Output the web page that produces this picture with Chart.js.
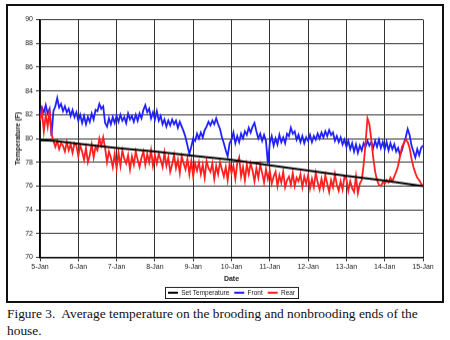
<!DOCTYPE html>
<html>
<head>
<meta charset="utf-8">
<script src="https://cdn.jsdelivr.net/npm/chart.js@4/dist/chart.umd.min.js"></script>
<style>
  body { margin: 0; background: #fff; width: 450px; height: 340px; overflow: hidden; position: relative; }
  #wrap { position: absolute; left: 0; top: 0; width: 450px; height: 307.5px; }
  #frame { position: absolute; left: 6px; top: 4px; width: 438px; height: 299px; border: 2px solid #111; box-sizing: border-box; pointer-events: none; }
  #caption { position: absolute; left: 7px; top: 306px; font-family: "Liberation Serif", "Times New Roman", serif; font-size: 13.4px; line-height: 16.5px; color: #111; white-space: nowrap; background: #fff; }
</style>
</head>
<body>
<div id="wrap"><canvas id="myChart"></canvas></div>
<div id="frame"></div>
<div id="caption">Figure 3.&nbsp; Average temperature on the brooding and nonbrooding ends of the<br>house.</div>

<script>
// axis ticks
const dayTicks = [5, 6, 7, 8, 9, 10, 11, 12, 13, 14, 15]
const tempTicks = [70, 72, 74, 76, 78, 80, 82, 84, 86, 88, 90]

// set temperature (read at the day marks)
const setDays = [5, 5.35, 6, 7, 8, 9, 10, 11, 12, 13, 14, 15]
const setTemp = [79.85, 79.8, 79.55, 79.2, 78.9, 78.55, 78.2, 77.75, 77.3, 76.85, 76.45, 76.0]

// front and rear are read every 0.05 day (72 min) from 5-Jan to 15-Jan
const sampleDays = Array.from({length: 201}, (_, i) => 5 + i * 0.05)

const frontTemp = [
  82.0, 82.6, 82.2, 82.8, 82.1, 82.5, 80.2, 82.3, 82.7, 83.4, 82.6, 82.9, 82.3, 82.7, 82.2, 82.5, 81.9, 82.4, 81.8, 82.2,
  81.5, 82.0, 81.3, 81.9, 81.2, 81.8, 81.4, 82.1, 81.6, 82.4, 82.3, 82.9, 82.5, 82.7, 81.3, 81.0, 81.7, 81.2, 81.8, 81.3,
  81.9, 81.4, 82.0, 81.5, 81.8, 81.3, 82.1, 81.6, 81.9, 81.4, 82.0, 81.5, 82.1, 81.7, 82.4, 82.8, 82.2, 82.5, 81.7, 82.2,
  81.6, 82.3, 81.5, 81.9, 81.2, 81.6, 81.0, 81.5, 81.1, 81.6, 81.2, 81.5, 80.9, 81.4, 81.0, 80.6, 80.1, 79.4, 78.7, 79.3,
  80.0, 79.8, 80.4, 80.0, 80.5, 80.1, 80.7, 81.0, 81.4, 81.1, 81.5, 81.2, 81.7, 81.2, 80.8, 80.1, 79.6, 79.0, 78.5, 79.6,
  79.9, 80.5, 79.6, 80.2, 79.7, 80.4, 80.0, 80.6, 80.3, 80.9, 80.5, 81.0, 81.3, 80.6, 80.0, 80.4, 79.8, 80.3, 79.8, 77.9,
  79.6, 80.2, 79.4, 80.0, 79.5, 80.3, 79.7, 80.1, 79.6, 80.4, 80.2, 80.9, 80.4, 80.6, 79.9, 80.3, 79.7, 80.2, 79.6, 80.1,
  79.8, 80.3, 79.7, 80.2, 79.9, 80.4, 80.0, 80.5, 80.1, 80.6, 80.2, 80.7, 80.3, 80.5, 79.8, 80.2, 79.7, 80.1, 79.5, 79.9,
  79.3, 79.8, 79.1, 79.6, 78.9, 79.5, 78.8, 79.4, 79.0, 79.6, 79.3, 79.8, 79.4, 79.7, 79.2, 79.8, 79.3, 79.9, 79.2, 79.7,
  79.1, 79.7, 79.0, 79.6, 79.1, 79.5, 78.9, 79.2, 78.6, 79.0, 79.6, 80.1, 80.8, 80.3, 79.4, 78.9, 78.4, 79.1, 78.6, 79.2,
  79.4
]

const rearTemp = [
  81.5, 82.3, 80.6, 82.0, 81.0, 82.4, 80.4, 79.8, 79.3, 79.8, 79.1, 79.6, 79.4, 78.9, 79.7, 79.0, 79.5, 78.8, 79.6, 79.4,
  78.5, 79.4, 78.9, 78.2, 79.2, 78.0, 78.6, 79.5, 78.4, 79.3, 79.0, 80.0, 79.4, 80.1, 79.2, 78.0, 78.9, 78.4, 77.6, 78.7,
  77.5, 78.8, 77.7, 79.0, 78.3, 77.9, 78.6, 77.4, 78.5, 77.8, 78.9, 78.2, 77.6, 78.4, 78.9, 77.8, 78.7, 78.0, 79.0, 77.7,
  78.6, 77.9, 78.7, 78.2, 77.6, 78.8, 77.7, 78.4, 77.2, 77.8, 78.6, 77.5, 78.2, 77.1, 78.5, 77.9, 77.4, 78.3, 77.0, 78.1,
  76.8, 77.9, 77.3, 78.0, 77.0, 77.8, 76.7, 78.1, 77.5, 77.2, 77.9, 76.6, 77.7, 77.0, 78.0, 77.4, 76.8, 77.6, 76.5, 77.9,
  77.1, 77.7, 76.6, 77.9, 78.4, 76.8, 77.6, 76.5, 77.8, 77.0, 77.9, 77.3, 76.4, 77.5, 76.7, 77.8, 77.1, 76.3, 77.4, 76.6,
  77.3, 76.2, 76.8, 77.2, 76.0, 76.9, 76.3, 77.2, 75.9, 76.5, 76.8, 76.1, 77.1, 76.0, 76.7, 76.4, 77.0, 75.9, 76.8, 76.2,
  76.9, 75.8, 76.6, 75.9, 77.1, 76.3, 75.7, 76.6, 75.8, 76.9, 76.2, 75.5, 76.5, 75.9, 77.0, 76.1, 75.6, 76.4, 75.7, 76.8,
  76.6, 75.6, 76.4, 75.8, 75.5, 76.8, 75.4, 76.2, 76.5, 77.8, 79.6, 81.7, 81.2, 79.9, 78.4, 77.2, 76.5, 76.1, 76.0, 76.3,
  76.2, 76.5, 76.3, 76.7, 76.4, 76.8, 77.2, 77.7, 78.5, 79.3, 79.6, 79.9, 79.7, 79.2, 78.3, 77.6, 77.1, 76.7, 76.5, 76.2,
  76.0
]

const tickFont = { family: "'Liberation Sans', Arial, sans-serif", size: 7 }

function toPoints(days, temps) {
  return days.map((d, i) => ({ x: d, y: temps[i] }))
}

// box drawn round the legend, like the excel one
const legendBox = {
  id: 'legendBox',
  afterDraw(chart) {
    const boxes = chart.legend.legendHitBoxes
    if (!boxes || !boxes.length) return
    const left = Math.min(...boxes.map(b => b.left)) - 3
    const right = Math.max(...boxes.map(b => b.left + b.width)) + 3
    const mid = boxes[0].top + boxes[0].height / 2
    const ctx = chart.ctx
    ctx.save()
    ctx.strokeStyle = '#222'
    ctx.lineWidth = 1
    ctx.strokeRect(Math.round(left) + 0.5, Math.round(mid - 6) + 0.5, Math.round(right - left), 11)
    ctx.restore()
  }
}

const ctx = document.getElementById("myChart").getContext("2d")
window.myChart = new Chart(ctx, {
  type: 'line',
  data: {
    datasets: [{
      label: 'Set Temperature',
      data: toPoints(setDays, setTemp),
      borderColor: '#000',
      backgroundColor: '#000',
      borderWidth: 2,
      pointRadius: 0,
      order: 0
    }, {
      label: 'Front',
      data: toPoints(sampleDays, frontTemp),
      borderColor: '#1f1fff',
      backgroundColor: '#1f1fff',
      borderWidth: 1.8,
      pointRadius: 0,
      order: 2
    }, {
      label: 'Rear',
      data: toPoints(sampleDays, rearTemp),
      borderColor: '#ff1f1f',
      backgroundColor: '#ff1f1f',
      borderWidth: 1.8,
      pointRadius: 0,
      order: 1
    }]
  },
  options: {
    responsive: true,
    maintainAspectRatio: false,
    animation: false,
    layout: { padding: { top: 19.5, left: 8, right: 27, bottom: 2.5 } },
    plugins: {
      tooltip: { enabled: false },
      legend: {
        position: 'bottom',
        fullSize: false,
        labels: {
          usePointStyle: true,
          pointStyle: 'line',
          pointStyleWidth: 10,
          boxHeight: 7,
          padding: 5,
          color: '#222',
          font: { ...tickFont, size: 6.5 },
          sort: (a, b) => a.datasetIndex - b.datasetIndex
        }
      }
    },
    scales: {
      x: {
        type: 'linear',
        min: 5,
        max: 15,
        afterBuildTicks: axis => { axis.ticks = dayTicks.map(v => ({ value: v })) },
        afterFit: axis => { axis.height = 27 },
        ticks: { callback: v => v + '-Jan', color: '#222', font: tickFont, padding: 1, maxRotation: 0 },
        grid: { color: '#333', lineWidth: 1, tickLength: 4 },
        border: { color: '#000', width: 1.5 },
        title: { display: true, text: 'Date', color: '#222', font: { ...tickFont, weight: 'bold' }, padding: { top: 0, bottom: 1 } }
      },
      y: {
        min: 70,
        max: 90,
        afterBuildTicks: axis => { axis.ticks = tempTicks.map(v => ({ value: v })) },
        afterFit: axis => { axis.width = 32 },
        ticks: { color: '#222', font: tickFont, padding: 3 },
        grid: { color: '#333', lineWidth: 1, tickLength: 4 },
        border: { color: '#000', width: 1.5 },
        title: { display: true, text: 'Temperature (F)', color: '#222', font: { ...tickFont, weight: 'bold' }, padding: { top: 6, bottom: 0 } }
      }
    }
  },
  plugins: [legendBox]
})
</script>
</body>
</html>
